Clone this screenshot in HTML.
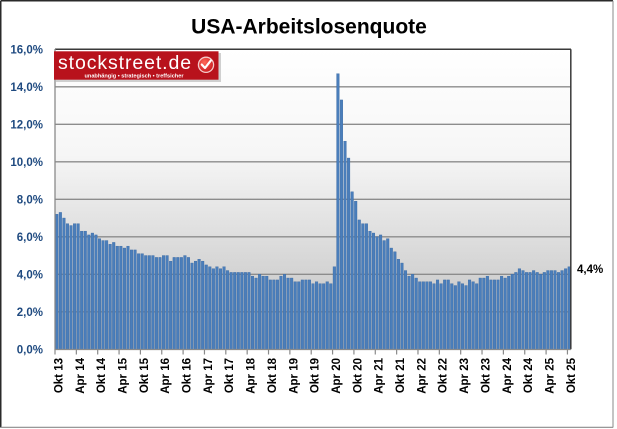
<!DOCTYPE html>
<html>
<head>
<meta charset="utf-8">
<style>
html,body{margin:0;padding:0;background:#fff;}
svg{display:block;}
text{font-family:"Liberation Sans",Arial,sans-serif;}
</style>
</head>
<body>
<svg id="c" width="617" height="429" viewBox="0 0 617 429" xmlns="http://www.w3.org/2000/svg">
<defs>
<linearGradient id="bg" x1="0" y1="0" x2="0" y2="1">
<stop offset="0" stop-color="#ffffff"/>
<stop offset="0.35" stop-color="#f6f6f6"/>
<stop offset="1" stop-color="#bdbdbd"/>
</linearGradient>
<radialGradient id="chk" cx="0.4" cy="0.35" r="0.7">
<stop offset="0" stop-color="#ff6a5a"/>
<stop offset="1" stop-color="#c8141c"/>
</radialGradient>
</defs>
<rect x="0" y="0" width="617" height="429" fill="#fff"/>
<!-- outer frame -->
<line x1="0.75" y1="0.75" x2="613" y2="0.75" stroke="#2a2a2a" stroke-width="1.5"/>
<line x1="0.75" y1="0.75" x2="0.75" y2="427.5" stroke="#2a2a2a" stroke-width="1.5"/>
<line x1="613" y1="0.75" x2="613" y2="427.5" stroke="#8a8a8a" stroke-width="1"/>
<line x1="0.75" y1="427.3" x2="613" y2="427.3" stroke="#8a8a8a" stroke-width="1.2"/>

<text x="309" y="33.5" font-size="21" font-weight="bold" text-anchor="middle" fill="#000">USA-Arbeitslosenquote</text>

<!-- plot background -->
<rect x="55" y="49.3" width="516" height="300" fill="url(#bg)"/>
<g id="grid" stroke="#8c8c8c" stroke-width="1.3"></g>
<g id="bars" fill="#4a7ebb" stroke="#3b6aa3" stroke-width="0.4"></g>
<!-- plot borders -->
<line x1="55" y1="49.3" x2="571" y2="49.3" stroke="#3a3a3a" stroke-width="1.5"/>
<line x1="570.8" y1="49.3" x2="570.8" y2="349.3" stroke="#3a3a3a" stroke-width="1.5"/>
<line x1="55" y1="49" x2="55" y2="350" stroke="#8a8a8a" stroke-width="1.3"/>
<line x1="55" y1="349.5" x2="571" y2="349.5" stroke="#8a8a8a" stroke-width="1.3"/>
<g id="ticks" stroke="#8a8a8a" stroke-width="1.2"></g>
<g id="ylab" font-size="11.5" font-weight="bold" fill="#1f4a80" text-anchor="end"></g>
<g id="xlab" font-size="11.5" font-weight="bold" fill="#000" text-anchor="end"></g>

<text x="577" y="273" font-size="11.5" font-weight="bold" fill="#000">4,4%</text>

<!-- logo -->
<rect x="56" y="53" width="165" height="29" fill="#9a9a9a" opacity="0.45"/>
<rect x="54" y="51.3" width="164.5" height="28.4" fill="#b8121c"/>
<text x="58" y="69" font-size="19.5" fill="#fff" letter-spacing="0.9">stockstreet.de</text>
<text x="134" y="77.6" font-size="5.6" font-weight="bold" fill="#fff" text-anchor="middle">unabhängig • strategisch • treffsicher</text>
<circle cx="206" cy="64.8" r="7.6" fill="url(#chk)" stroke="#f4c9c9" stroke-width="1.3"/>
<path d="M201.8 64.6 L205 68 L210.8 60.6" fill="none" stroke="#fff" stroke-width="2.2" stroke-linecap="round" stroke-linejoin="round"/>
</svg>
<script>
(function(){
var d=[7.2,7.3,7.0,6.7,
6.6,6.7,6.7,6.3,6.3,6.1,6.2,6.1,5.9,5.8,5.8,5.6,
5.7,5.5,5.5,5.4,5.5,5.3,5.3,5.1,5.1,5.0,5.0,5.0,
4.9,4.9,5.0,5.0,4.7,4.9,4.9,4.9,5.0,4.9,4.6,4.7,
4.8,4.7,4.5,4.4,4.3,4.4,4.3,4.4,4.2,4.1,4.1,4.1,
4.1,4.1,4.1,3.9,3.8,4.0,3.9,3.9,3.7,3.7,3.7,3.9,
4.0,3.8,3.8,3.6,3.6,3.7,3.7,3.7,3.5,3.6,3.5,3.5,
3.6,3.5,4.4,14.7,13.3,11.1,10.2,8.4,7.9,6.9,6.7,6.7,
6.3,6.2,6.0,6.1,5.8,5.9,5.4,5.2,4.8,4.6,4.2,3.9,
4.0,3.8,3.6,3.6,3.6,3.6,3.5,3.7,3.5,3.7,3.7,3.5,
3.4,3.6,3.5,3.4,3.7,3.6,3.5,3.8,3.8,3.9,3.7,3.7,
3.7,3.9,3.8,3.9,4.0,4.1,4.3,4.2,4.1,4.1,4.2,4.1,
4.0,4.1,4.2,4.2,4.2,4.1,4.2,4.3,4.4];
var NS="http://www.w3.org/2000/svg";
function el(p,n,a,t){var e=document.createElementNS(NS,n);for(var k in a)e.setAttribute(k,a[k]);if(t!=null)e.textContent=t;document.getElementById(p).appendChild(e);return e;}
var x0=55,x1=571,yb=349.3,s=18.75,n=d.length,w=(x1-x0)/n,bw=2.6;
for(var g=1;g<8;g++){var y=yb-g*2*s;el("grid","line",{x1:x0,y1:y,x2:x1,y2:y});}
for(var i=0;i<n;i++){var h=d[i]*s;el("bars","rect",{x:(x0+i*w+(w-bw)/2).toFixed(2),y:(yb-h).toFixed(2),width:bw,height:h.toFixed(2)});}
for(var g=0;g<=8;g++){var y=yb-g*2*s;el("ylab","text",{x:43,y:(y+4).toFixed(1)},(g*2)+",0%");}
var lab=[];for(var yr=13;yr<=25;yr++){if(yr>13)lab.push("Apr "+yr);lab.push("Okt "+yr);}
for(var k=0;k<lab.length;k++){var tx=x0+k*6*w;el("ticks","line",{x1:tx.toFixed(2),y1:349.5,x2:tx.toFixed(2),y2:354.5});
el("xlab","text",{transform:"translate("+(tx+7.4).toFixed(2)+",358) rotate(-90)"},lab[k]);}
})();
</script>
</body>
</html>
